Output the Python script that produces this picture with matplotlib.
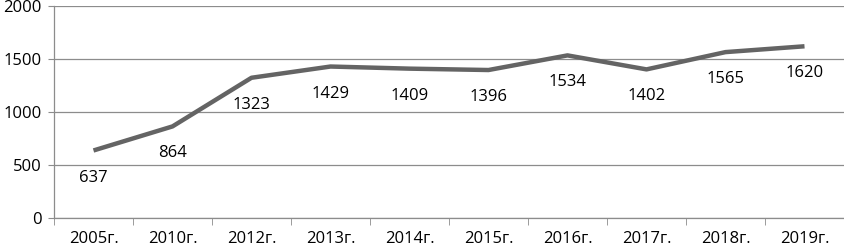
import numpy as np
import matplotlib.pyplot as plt
from matplotlib.ticker import FixedLocator

years = ['2005г.', '2010г.', '2012г.', '2013г.', '2014г.',
         '2015г.', '2016г.', '2017г.', '2018г.', '2019г.']
values = [637, 864, 1323, 1429, 1409, 1396, 1534, 1402, 1565, 1620]

plt.rcParams['font.family'] = ['Open Sans', 'DejaVu Sans']

fig = plt.figure(figsize=(8.45, 2.49), dpi=100)
ax = fig.add_axes([54/845, 1-218/249, 790/845, 212/249])

x = np.arange(len(years))
ax.plot(x, values, color='#646464', linewidth=3.2, solid_capstyle='butt',
        zorder=3)
for xi, v in zip(x, values):
    ax.annotate(str(v), (xi, v), xytext=(0, -19.5), textcoords='offset points',
                ha='center', va='center', fontsize=12, color='black')

ax.set_xlim(-0.5, len(years) - 0.5)
ax.set_ylim(0, 2000)
ax.set_yticks([0, 500, 1000, 1500, 2000])
ax.yaxis.grid(True, color='#8c8c8c', linewidth=0.9)
ax.set_axisbelow(True)

ax.set_xticks(x)
ax.set_xticklabels(years)
ax.xaxis.set_minor_locator(FixedLocator(np.arange(-0.5, len(years), 1)))
ax.tick_params(axis='x', which='major', length=0, pad=9, labelsize=12)
ax.tick_params(axis='x', which='minor', length=5, color='#8c8c8c')
ax.tick_params(axis='y', length=4, color='#8c8c8c', labelsize=12, pad=5)

for s in ['top', 'right']:
    ax.spines[s].set_visible(False)
for s in ['left', 'bottom']:
    ax.spines[s].set_color('#8c8c8c')
    ax.spines[s].set_linewidth(0.9)

fig.savefig('out.png', dpi=100)
